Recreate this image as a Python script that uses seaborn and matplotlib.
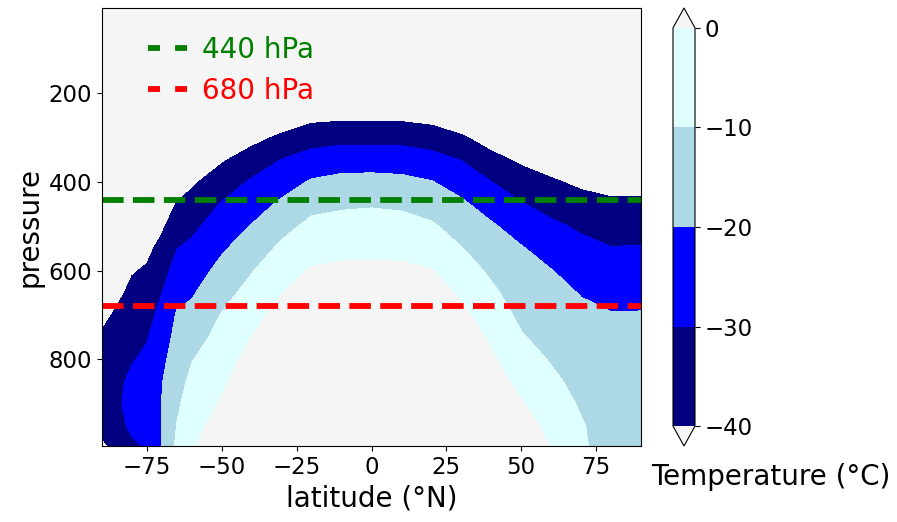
import numpy as np
import matplotlib
matplotlib.use("Agg")
import matplotlib.pyplot as plt
from matplotlib.colors import ListedColormap
import seaborn as sns

# ---------------- data ----------------
latitudes = [-90, -85, -80, -75, -70, -65, -60, -50, -40, -30, -20, -10,
             0, 10, 20, 30, 40, 50, 60, 70, 80, 90]
pressure_levels = [8, 20, 150, 250, 300, 350, 400, 450, 500, 550, 600, 650,
                   700, 750, 800, 850, 900, 950, 995]

# temperature profiles (°C), one per latitude, listed top (8 hPa) to bottom (995 hPa)
t_lat_m90 = [-45, -50, -60, -63, -62, -61, -60, -58, -55, -52, -49, -46, -42, -39, -36.5, -35, -35, -37, -42]
t_lat_m85 = [-45, -50, -60, -62, -61, -60, -58, -55, -51, -48, -45, -41.8, -38.8, -36, -33.5, -32, -31.5, -32.5, -37]
t_lat_m80 = [-45, -50, -60, -61, -60, -58, -55, -52, -48, -44, -40.6, -38.1, -35.6, -33.1, -30.6, -28, -27, -28.5, -31.5]
t_lat_m75 = [-45, -50, -60, -60, -58, -55, -51, -47.6, -44.8, -41.9, -39.1, -36.3, -33.4, -30.6, -28.2, -26.5, -26, -27, -29]
t_lat_m70 = [-45, -50, -60, -59, -56, -52.5, -48.7, -45, -41.3, -37.6, -33.9, -30.1, -27, -24.5, -22.2, -20.4, -19.8, -19.6, -19.6]
t_lat_m65 = [-45, -50, -60, -58, -53.7, -49, -44.3, -39.6, -35, -30.2, -26.3, -22.4, -19.2, -17.3, -15.4, -13.5, -11.6, -9.7, -8.2]
t_lat_m60 = [-41, -50, -60, -56, -51, -46.1, -41.4, -36.7, -32, -28, -24.5, -21, -17.5, -13.9, -10.4, -7.8, -5.3, -2.9, -1]
t_lat_m50 = [-38, -50, -60, -53.1, -47.1, -41.1, -35.1, -29.3, -25.3, -21.2, -17.2, -13.2, -9.5, -6.9, -4.3, -1.7, 0.9, 3.5, 5.5]
t_lat_m40 = [-38, -50, -60, -50.4, -43, -35.5, -28.8, -24.2, -19.5, -15, -10.5, -6.9, -3.4, 0, 3.2, 6.2, 9, 11.6, 13.4]
t_lat_m30 = [-38, -50, -60, -46.9, -38.3, -29.8, -24.1, -18.4, -12.9, -8.1, -4.2, -0.2, 3.5, 7.1, 10.5, 13.6, 16.5, 19.2, 21]
t_lat_m20 = [-38, -50, -60, -43.3, -34.1, -26.0, -19.0, -12.75, -7.6, -3.4, 0.8, 4.6, 8.2, 11.6, 14.6, 17.4, 20, 22.4, 24]
t_lat_m10 = [-38, -50, -60, -42.5, -32.9, -24.4, -17.3, -11.2, -6.9, -2.2, 1.7, 5.2, 8.6, 12, 15.2, 18, 20.5, 23, 24.5]
t_lat_0 = [-38, -50, -60, -42.5, -32.9, -24.3, -17.0, -10.75, -6.3, -2.0, 1.8, 5.3, 8.8, 12.3, 15.8, 18.5, 21, 23.5, 25]
t_lat_p10 = [-38, -50, -60, -42.7, -33.1, -24.7, -17.6, -11.5, -6.7, -2.3, 1.7, 5.2, 8.6, 12, 15, 17.8, 20.3, 22.8, 24.3]
t_lat_p20 = [-38, -50, -60, -44.1, -34.8, -26.6, -19.6, -14.0, -8.7, -4.2, 0.3, 4.3, 8, 11.5, 14.5, 17.3, 19.8, 22.2, 23.7]
t_lat_p30 = [-38, -50, -60, -47.3, -38.8, -30.3, -24, -18.4, -14.0, -9.6, -5.5, -1.5, 2.4, 6.2, 9.8, 13, 16, 18.8, 20.5]
t_lat_p40 = [-38, -50, -60, -51.6, -44.4, -37.1, -29.9, -24.0, -18.8, -15.2, -11.6, -8.2, -5.0, -1.7, 1.4, 4.3, 7.0, 9.5, 11.3]
t_lat_p50 = [-40.5, -50, -60, -53.8, -47.7, -41.6, -35.5, -29.4, -23.9, -19.3, -16.8, -14.4, -11.9, -9.3, -6.0, -2.7, 0.7, 4, 6]
t_lat_p60 = [-45, -50, -60, -55.5, -50, -44.4, -38.9, -33.3, -28.2, -23.8, -19.7, -17.5, -15.2, -13, -10.7, -8.1, -5.4, -2.6, -0.5]
t_lat_p70 = [-45, -50, -60, -57, -52, -46.9, -41.8, -36.6, -31.4, -27.4, -23.9, -20.4, -18.3, -16.5, -14.7, -12.8, -11, -9.2, -8.5]
t_lat_p80 = [-45, -50, -60, -56.5, -52, -47.5, -43, -38.5, -34, -29.6, -26.2, -22.8, -19.5, -18.3, -17, -15.8, -15, -14.5, -14.5]
t_lat_p90 = [-45, -50, -60, -56.5, -52, -47.5, -43, -38.4, -33.7, -29.3, -26, -22.6, -19.4, -18.3, -17, -16, -15.2, -14.8, -15]

contour_levels = [-40, -30, -20, -10, 0]
band_colors = ["navy", "blue", "lightblue", "lightcyan"]
outside_color = "whitesmoke"

line_pressures = [440, 680]
line_labels = ["440 hPa", "680 hPa"]
line_colors = ["green", "red"]

x_ticks = [-75, -50, -25, 0, 25, 50, 75]
y_ticks = [200, 400, 600, 800]

# ---------------- figure ----------------
sns.set_style("ticks", rc={
    "axes.edgecolor": "black", "text.color": "black",
    "xtick.color": "black", "ytick.color": "black",
    "axes.labelcolor": "black", "axes.linewidth": 0.8,
    "xtick.major.size": 3.5, "ytick.major.size": 3.5,
    "xtick.major.width": 0.8, "ytick.major.width": 0.8,
})
plt.rcParams["font.family"] = ["DejaVu Sans"]

profiles = [t_lat_m90, t_lat_m85, t_lat_m80, t_lat_m75, t_lat_m70, t_lat_m65,
            t_lat_m60, t_lat_m50, t_lat_m40, t_lat_m30, t_lat_m20, t_lat_m10,
            t_lat_0, t_lat_p10, t_lat_p20, t_lat_p30, t_lat_p40, t_lat_p50,
            t_lat_p60, t_lat_p70, t_lat_p80, t_lat_p90]
temperature = np.array(profiles).T  # shape (pressure, latitude)

fig = plt.figure(figsize=(8.97, 5.22), dpi=100)
ax = fig.add_axes([102 / 897, 1 - 446 / 522, 539 / 897, 438 / 522])
cax = fig.add_axes([673 / 897, 1 - 446 / 522, 22 / 897, 438 / 522])

cmap = ListedColormap(band_colors)
cmap.set_under(outside_color)
cmap.set_over(outside_color)

cf = ax.contourf(latitudes, pressure_levels, temperature,
                 levels=contour_levels, cmap=cmap, extend="both")

for p, lab, col in zip(line_pressures, line_labels, line_colors):
    sns.lineplot(x=[latitudes[0], latitudes[-1]], y=[p, p], color=col,
                 linestyle="--", linewidth=4.2, label=lab, ax=ax)

ax.set_xlim(latitudes[0], latitudes[-1])
ax.set_ylim(pressure_levels[-1], pressure_levels[0])
ax.set_xticks(x_ticks)
ax.set_yticks(y_ticks)
ax.tick_params(labelsize=16.5)
ax.set_xlabel("latitude (°N)", fontsize=20)
ax.set_ylabel("pressure", fontsize=20)

leg = ax.legend(loc="upper left", bbox_to_anchor=(0.085, 0.937), frameon=False,
                fontsize=20, labelcolor="linecolor", handlelength=1.4,
                borderpad=0, borderaxespad=0, labelspacing=0.48,
                handletextpad=0.55)
for hl in leg.get_lines():
    hl.set_dashes([2.05, 2.6])

cbar = fig.colorbar(cf, cax=cax, ticks=contour_levels)
cbar.ax.tick_params(labelsize=16.5)
cbar.ax.set_xlabel("Temperature (°C)", fontsize=20)
cbar.ax.xaxis.set_label_coords(4.45, -0.093)

fig.savefig("out.png", dpi=100)
